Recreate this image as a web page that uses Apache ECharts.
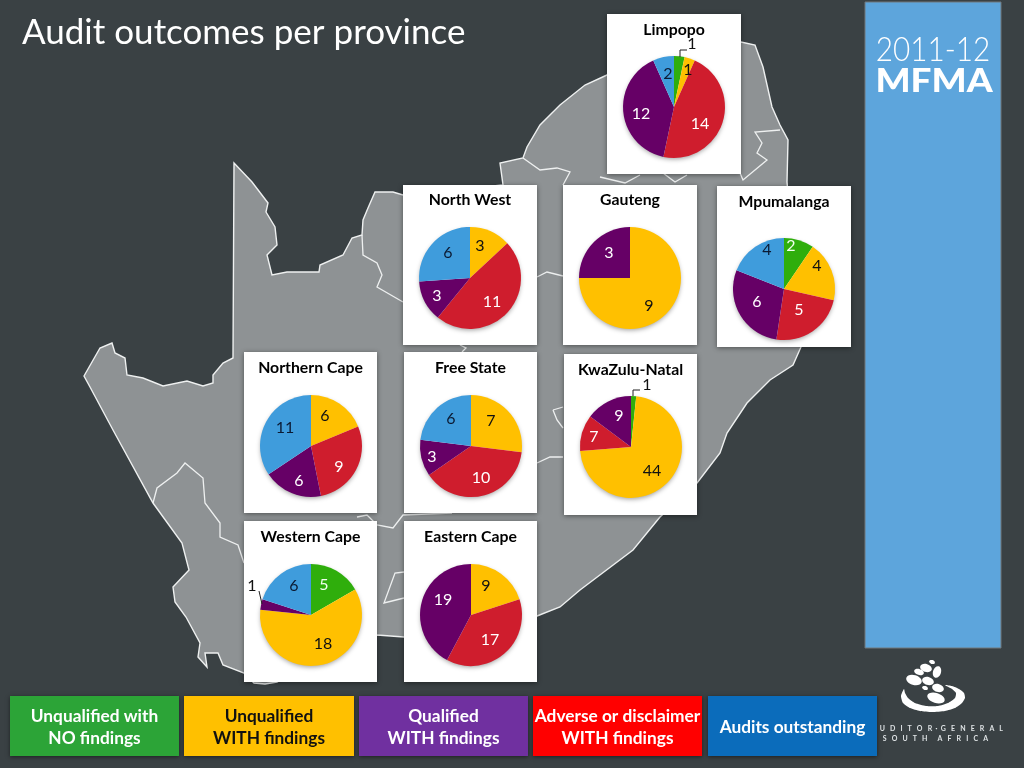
<!DOCTYPE html>
<html><head><meta charset="utf-8">
<style>html,body{margin:0;padding:0;background:#3a4144}#c{width:1024px;height:768px}</style>
<script src="https://cdn.jsdelivr.net/npm/echarts@6/dist/echarts.min.js"></script>
</head><body><div id="c"></div>
<script>
// ---------- data ----------
const chartTitle = 'Audit outcomes per province';
const categories = ['Unqualified with NO findings','Unqualified WITH findings','Qualified WITH findings','Adverse or disclaimer WITH findings','Audits outstanding'];
const provinces = ['Limpopo','North West','Gauteng','Mpumalanga','Northern Cape','Free State','KwaZulu-Natal','Western Cape','Eastern Cape'];
// order of slices clockwise: green, yellow, red, purple, blue
const noFindings   = [1,0,0,2,0,0,1,5,0];
const withFindings = [1,3,9,4,6,7,44,18,9];
const adverse      = [14,11,0,5,9,10,7,0,17];
const qualified    = [12,3,3,6,6,3,9,1,19];
const outstanding  = [2,6,0,4,11,6,0,6,0];

// ---------- layout & style (not data) ----------
const FONT = 'Lato, "Open Sans", sans-serif';
const sliceColors = ['#2fae0c','#ffc000','#cf1d2d','#660066','#3f9cdc'];
const labelColors = ['#f2fff0','#111','#fff','#fff','#0b1a33'];
const outerLabel = '#111';
const R = 51;
const cards = [
 {x:607,y:14,w:134,h:160,cx:674,cy:107,ty:30},
 {x:403,y:185,w:134,h:160,cx:470,cy:278,ty:200},
 {x:563,y:185,w:134,h:160,cx:630,cy:278,ty:200},
 {x:717,y:186,w:134,h:161,cx:784,cy:289,ty:202},
 {x:244,y:352,w:133,h:161,cx:311,cy:446,ty:368},
 {x:404,y:352,w:133,h:161,cx:471,cy:446,ty:368},
 {x:564,y:354,w:133,h:161,cx:631,cy:447,ty:370},
 {x:244,y:521,w:133,h:161,cx:311,cy:615,ty:537},
 {x:404,y:521,w:133,h:161,cx:471,cy:615,ty:537}
];
// label anchor points, one per non-empty slice
const labelSpots = [
 [[692,44],[688,70],[700,124],[641,114],[668,74]],
 [[480,246],[492,302],[437,296],[448,253]],
 [[649,306],[609,253]],
 [[791,246],[817,266],[799,310],[757,302],[767,250]],
 [[325,416],[339,467],[299,481],[285,428]],
 [[491,421],[481,478],[432,457],[451,419]],
 [[647,385],[652,471],[594,437],[619,416]],
 [[324,585],[323,644],[252,586],[294,586]],
 [[486,586],[490,640],[443,600]]
];
const outerSlices = {'0-0':1,'6-0':1,'7-2':1};
const leaders = [
 [[680,57],[680,50],[687,50]],
 [[633,396],[633,390],[640,390]],
 [[262,604],[259,591]]
];
const legendBoxes = [
 {x:10,w:169,c:'#2ca437',t:'#fff',lines:['Unqualified with','NO findings']},
 {x:184,w:170,c:'#ffc000',t:'#111',lines:['Unqualified','WITH findings']},
 {x:359,w:169,c:'#7030a0',t:'#fff',lines:['Qualified','WITH findings']},
 {x:533,w:169,c:'#ff0000',t:'#fff',lines:['Adverse or disclaimer','WITH findings']},
 {x:708,w:169,c:'#0b6cbb',t:'#fff',lines:['Audits outstanding']}
];
const mapOutline = [[84,376],[100,348],[112,343],[115,353],[125,358],[127,375],[143,378],[163,386],[187,381],[203,386],[213,383],[213,375],[223,363],[233,358],[234,163],[252,182],[268,203],[266,212],[275,227],[277,245],[267,255],[272,275],[287,272],[319,272],[320,265],[343,255],[352,238],[362,235],[363,220],[368,208],[375,192],[393,192],[403,195],[503,185],[500,163],[523,158],[527,147],[540,125],[560,105],[585,85],[607,75],[660,50],[741,42],[755,45],[763,67],[772,107],[780,125],[788,140],[787,182],[801,347],[793,365],[770,380],[747,403],[727,433],[720,453],[697,483],[660,517],[633,550],[580,590],[560,607],[537,616],[500,630],[404,637],[377,635],[300,668],[277,682],[265,684],[254,683],[244,673],[223,665],[218,653],[205,653],[207,667],[198,657],[200,643],[186,617],[175,602],[173,587],[189,570],[182,543],[153,503],[113,430],[90,387]];
const borders = [
 [[153,503],[157,488],[177,473],[185,463],[203,478],[205,503],[220,523],[220,537],[238,545],[244,563]],
 [[357,517],[367,515],[377,525],[393,528],[403,515],[452,513]],
 [[537,277],[547,272],[563,276]],
 [[537,463],[550,457],[563,457]],
 [[553,410],[563,407]],[[553,410],[557,420],[563,428]],
 [[404,572],[395,573],[384,603],[404,598]],
 [[362,235],[363,255],[377,263],[382,275],[377,287],[403,302]],
 [[523,158],[540,170],[557,168],[570,172],[563,185]],
 [[600,177],[625,183],[640,175]],[[663,173],[675,182],[687,175]],
 [[740,173],[743,180],[767,160],[757,153],[762,143],[755,132],[780,130]],
 [[460,345],[466,348],[462,352]]
];
const logoDots = [[926,668,6,4],[919,672,5,3],[937,672,4,6],[928,681,6,4],[914,680,8,5],[938,688,6,4],[925,688,3,2],[936,698,9,5],[921,672,2,2],[932,662,3,2]];
const swoosh = [[904,689],[901,696],[903,703],[910,708],[920,711],[932,712],[945,711],[955,708],[962,703],[965,698],[964,693],[959,689],[952,686],[945,685],[952,689],[956,693],[955,698],[948,703],[938,706],[926,706],[915,703],[908,698],[905,693]];

// ---------- build ----------
const series = provinces.map((name,i)=>{
  const vals=[noFindings[i],withFindings[i],adverse[i],qualified[i],outstanding[i]];
  const data=[];
  vals.forEach((v,k)=>{ if(v>0){
    const outer = outerSlices[i+'-'+data.length];
    data.push({value:v,name:categories[k],
      itemStyle:{color:sliceColors[k]},
      label:{color:outer?outerLabel:labelColors[k]}});
  }});
  return {type:'pie',name,radius:R,center:[cards[i].cx,cards[i].cy],startAngle:90,clockwise:true,
    animation:false,silent:true,z:5,data,
    itemStyle:{borderWidth:0},
    label:{position:'inside',formatter:'{c}',fontFamily:FONT,fontSize:16},
    labelLine:{show:false},
    labelLayout:p=>({x:labelSpots[i][p.dataIndex][0],y:labelSpots[i][p.dataIndex][1],align:'center',verticalAlign:'middle'})
  };
});
const g=[];
g.push({type:'rect',shape:{x:0,y:0,width:1024,height:768},style:{fill:'#3a4144'},z:0});
g.push({type:'polygon',shape:{points:mapOutline},style:{fill:'#8e9294',stroke:'#eef0f0',lineWidth:1.4},z:1});
borders.forEach(b=>g.push({type:'polyline',shape:{points:b},style:{fill:null,stroke:'#eef0f0',lineWidth:1.3},z:1}));
cards.forEach(c=>{
  g.push({type:'rect',shape:{x:c.x,y:c.y,width:c.w,height:c.h},style:{fill:'#fff',shadowBlur:5,shadowColor:'rgba(0,0,0,0.45)',shadowOffsetY:1},z:2});
  // soft shadow under each pie
  g.push({type:'circle',shape:{cx:c.cx,cy:c.cy,r:R-1},style:{fill:'#fff',shadowBlur:5,shadowColor:'rgba(0,0,0,0.4)',shadowOffsetY:2},z:3});
});
leaders.forEach(l=>g.push({type:'polyline',shape:{points:l},style:{fill:null,stroke:'#222',lineWidth:1},z:7}));
// side banner
g.push({type:'rect',shape:{x:865,y:2,width:136,height:646},style:{fill:'#5da5dc',stroke:'#70787c',lineWidth:1},z:1});
g.push({type:'text',x:933,y:50,scaleX:0.9,style:{x:0,y:0,text:'2011-12',fill:'#fff',font:'300 33px '+FONT,align:'center',verticalAlign:'middle'},z:3});
g.push({type:'text',x:934,y:81,scaleX:1.12,style:{x:0,y:0,text:'MFMA',fill:'#fff',font:'900 33px '+FONT,align:'center',verticalAlign:'middle'},z:3});
// logo
logoDots.forEach(d=>g.push({type:'ellipse',shape:{cx:d[0],cy:d[1],rx:d[2],ry:d[3]},rotation:-0.3,originX:d[0],originY:d[1],style:{fill:'#fff'},z:3}));
g.push({type:'polygon',shape:{points:swoosh,smooth:0.2},style:{fill:'#fff'},z:3});
g.push({type:'text',style:{x:1003,y:729,text:'A   U   D   I   T   O   R  ·  G   E   N   E   R   A   L',fill:'#dfe3e5',font:'700 7px '+FONT,align:'right',verticalAlign:'middle'},z:3});
g.push({type:'text',style:{x:988,y:739,text:'S   O   U   T   H      A   F   R   I   C   A',fill:'#dfe3e5',font:'700 7px '+FONT,align:'right',verticalAlign:'middle'},z:3});
// legend
legendBoxes.forEach(b=>{
  g.push({type:'rect',shape:{x:b.x,y:696,width:b.w,height:60},style:{fill:b.c,shadowBlur:4,shadowColor:'rgba(0,0,0,0.5)',shadowOffsetY:1},z:4});
  b.lines.forEach((t,j)=>{
    const y = b.lines.length===1 ? 727 : 716+22*j;
    g.push({type:'text',style:{x:b.x+b.w/2,y,text:t,fill:b.t,font:'700 17.3px '+FONT,align:'center',verticalAlign:'middle'},z:5});
  });
});
const titles=[{text:chartTitle,left:22,top:15,padding:0,textStyle:{color:'#fff',fontFamily:FONT,fontSize:35,fontWeight:400}}];
provinces.forEach((p,i)=>titles.push({text:p,left:cards[i].x+cards[i].w/2,top:cards[i].ty,textAlign:'center',textVerticalAlign:'middle',
  padding:0,textStyle:{color:'#000',fontFamily:FONT,fontSize:15.8,fontWeight:700}}));
const chart=echarts.init(document.getElementById('c'),null,{renderer:'canvas'});
chart.setOption({animation:false,backgroundColor:'#3a4144',title:titles,graphic:{elements:g},series});
</script></body></html>
